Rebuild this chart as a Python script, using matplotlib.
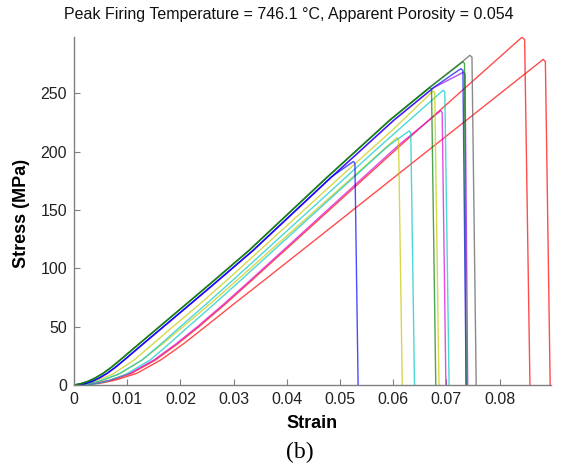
import matplotlib
matplotlib.use("Agg")
import matplotlib.pyplot as plt

# ---- data (strain, stress in MPa) ----
red_b_strain = [0, 0.0030, 0.0050, 0.0080, 0.0118, 0.0163, 0.0205, 0.0247, 0.0302, 0.0358, 0.0483, 0.0613, 0.0882, 0.0886, 0.0895]
red_b_stress = [0, 0.5, 1.5, 4.5, 10, 21.4, 35, 50, 70, 90, 135, 182, 279, 277, 0]

red_a_strain = [0, 0.0025, 0.0042, 0.0070, 0.0108, 0.0153, 0.0194, 0.0235, 0.0286, 0.0335, 0.0613, 0.0842, 0.0847, 0.0857]
red_a_stress = [0, 0.5, 1.5, 4, 10, 21.4, 35, 50, 70, 90, 205, 298, 296, 0]

magenta_a_strain = [0, 0.0023, 0.0040, 0.0067, 0.0105, 0.0150, 0.0191, 0.0232, 0.0283, 0.0332, 0.0610, 0.0689, 0.0692, 0.0699]
magenta_a_stress = [0, 0.5, 1.5, 4, 10, 21.4, 35, 50, 70, 90, 205.5, 235, 233.5, 0]

yellow_b_strain = [0, 0.0018, 0.0030, 0.0055, 0.0088, 0.0128, 0.0166, 0.0205, 0.0257, 0.0307, 0.0607, 0.0610, 0.0617]
yellow_b_stress = [0, 0.5, 1.5, 4, 10, 21.4, 35, 50, 70, 90, 212, 210.5, 0]

cyan_b_strain = [0, 0.0030, 0.0040, 0.0060, 0.0097, 0.0143, 0.0178, 0.0215, 0.0265, 0.0314, 0.0590, 0.0630, 0.0633, 0.0640]
cyan_b_stress = [0, 0.5, 1.0, 3, 9, 21.4, 35, 50, 70, 90, 204.6, 217.7, 216, 0]

cyan_a_strain = [0, 0.0015, 0.0025, 0.0045, 0.0082, 0.0128, 0.0163, 0.0200, 0.0250, 0.0299, 0.0575, 0.0694, 0.0697, 0.0705]
cyan_a_stress = [0, 0.5, 1.0, 3, 9, 21.4, 35, 50, 70, 90, 204.6, 252.6, 251, 0]

yellow_a_strain = [0, 0.0014, 0.0027, 0.0045, 0.0072, 0.0113, 0.0148, 0.0186, 0.0238, 0.0288, 0.0495, 0.0600, 0.0675, 0.0678, 0.0686]
yellow_a_stress = [0, 0.5, 2.0, 4.5, 9, 21.4, 35, 50, 70, 90, 176, 219, 252, 250.5, 0]

violet_strain = [0, 0.0020, 0.0034, 0.0048, 0.0063, 0.0078, 0.0095, 0.0130, 0.0169, 0.0221, 0.0265, 0.0338, 0.0484, 0.0602, 0.0677, 0.0732, 0.0735, 0.0740]
violet_stress = [0, 1, 3, 6, 10, 15, 21.4, 35, 50, 70, 87, 115.6, 178, 227, 255, 268, 266.5, 0]

blue_b_strain = [0, 0.0019, 0.0033, 0.0047, 0.0062, 0.0077, 0.0094, 0.0129, 0.0168, 0.0220, 0.0264, 0.0337, 0.0483, 0.0525, 0.0528, 0.0534]
blue_b_stress = [0, 1, 3, 6, 10, 15, 21.4, 35, 50, 70, 87, 115.6, 178, 191.5, 190, 0]

blue_a_strain = [0, 0.0019, 0.0033, 0.0047, 0.0062, 0.0077, 0.0094, 0.0129, 0.0168, 0.0220, 0.0264, 0.0337, 0.0483, 0.0601, 0.0676, 0.0727, 0.0731, 0.0737]
blue_a_stress = [0, 1, 3, 6, 10, 15, 21.4, 35, 50, 70, 87, 115.6, 178, 227, 255, 271, 269.5, 0]

gray_strain = [0, 0.0011, 0.0025, 0.0039, 0.0054, 0.0069, 0.0086, 0.0121, 0.0160, 0.0212, 0.0256, 0.0329, 0.0475, 0.0593, 0.0668, 0.0731, 0.0744, 0.0748, 0.0756]
gray_stress = [0, 1, 3, 6, 10, 15, 21.4, 35, 50, 70, 87, 115.6, 178, 227, 255, 277.5, 282.5, 281, 0]

green_b_strain = [0, 0.0012, 0.0026, 0.0040, 0.0055, 0.0070, 0.0087, 0.0122, 0.0161, 0.0213, 0.0257, 0.0330, 0.0476, 0.0594, 0.0669, 0.0672, 0.0680]
green_b_stress = [0, 1, 3, 6, 10, 15, 21.4, 35, 50, 70, 87, 115.6, 178, 227, 255, 253.5, 0]

green_a_strain = [0, 0.0012, 0.0026, 0.0040, 0.0055, 0.0070, 0.0087, 0.0122, 0.0161, 0.0213, 0.0257, 0.0330, 0.0476, 0.0594, 0.0669, 0.0731, 0.0734, 0.0737]
green_a_stress = [0, 1, 3, 6, 10, 15, 21.4, 35, 50, 70, 87, 115.6, 178, 227, 255, 277, 275.5, 0]

x_ticks = [0, 0.01, 0.02, 0.03, 0.04, 0.05, 0.06, 0.07, 0.08]
x_tick_labels = ["0", "0.01", "0.02", "0.03", "0.04", "0.05", "0.06", "0.07", "0.08"]
y_ticks = [0, 50, 100, 150, 200, 250]
y_tick_labels = ["0", "50", "100", "150", "200", "250"]

title_text = "Peak Firing Temperature = 746.1 \u00b0C, Apparent Porosity = 0.054"

# ---- drawing ----
plt.rcParams["font.family"] = ["Liberation Sans", "DejaVu Sans"]

W, H = 563, 470
fig = plt.figure(figsize=(W / 100, H / 100), dpi=100)
ax = fig.add_axes([74 / W, 1 - 385 / H, (550.7 - 74) / W, (385 - 37) / H])

curves = [
    (red_b_strain, red_b_stress, (1.0, 0.0, 0.0)),
    (red_a_strain, red_a_stress, (1.0, 0.0, 0.0)),
    (magenta_a_strain, magenta_a_stress, (0.85, 0.0, 0.85)),
    (yellow_b_strain, yellow_b_stress, (0.78, 0.78, 0.0)),
    (cyan_b_strain, cyan_b_stress, (0.0, 0.78, 0.78)),
    (cyan_a_strain, cyan_a_stress, (0.0, 0.78, 0.78)),
    (yellow_a_strain, yellow_a_stress, (0.78, 0.78, 0.0)),
    (violet_strain, violet_stress, (0.6, 0.0, 0.9)),
    (blue_b_strain, blue_b_stress, (0.0, 0.0, 1.0)),
    (blue_a_strain, blue_a_stress, (0.0, 0.0, 1.0)),
    (gray_strain, gray_stress, (0.35, 0.35, 0.35)),
    (green_b_strain, green_b_stress, (0.0, 0.5, 0.0)),
    (green_a_strain, green_a_stress, (0.0, 0.5, 0.0)),
]
for xs, ys, c in curves:
    ax.plot(xs, ys, color=c, lw=1.0, alpha=0.7, solid_joinstyle="round")

ax.set_xlim(0, 0.0896)
ax.set_ylim(0, 298.2)
ax.set_xticks(x_ticks)
ax.set_xticklabels(x_tick_labels)
ax.set_yticks(y_ticks)
ax.set_yticklabels(y_tick_labels)

for s in ("top", "right"):
    ax.spines[s].set_visible(False)
for s in ("left", "bottom"):
    ax.spines[s].set_color("#808080")
    ax.spines[s].set_linewidth(1.0)

ax.tick_params(direction="in", length=4, width=0.8, color="#808080",
               labelsize=11.5, labelcolor="#222222", pad=5)

fig.text(312 / W, 1 - 423 / H, "Strain", ha="center", va="center",
         fontsize=13, fontweight="bold")
fig.text(22 / W, 1 - 213 / H, "Stress (MPa)", ha="center", va="center",
         rotation=90, fontsize=13, fontweight="bold")
fig.text(289 / W, 1 - 15 / H, title_text, ha="center", va="center",
         fontsize=11.5, color="#111111")
fig.text(300 / W, 1 - 452 / H, "(b)", ha="center", va="center",
         fontsize=17, family=["Liberation Serif", "DejaVu Serif"])

fig.savefig("out.png", dpi=100)
